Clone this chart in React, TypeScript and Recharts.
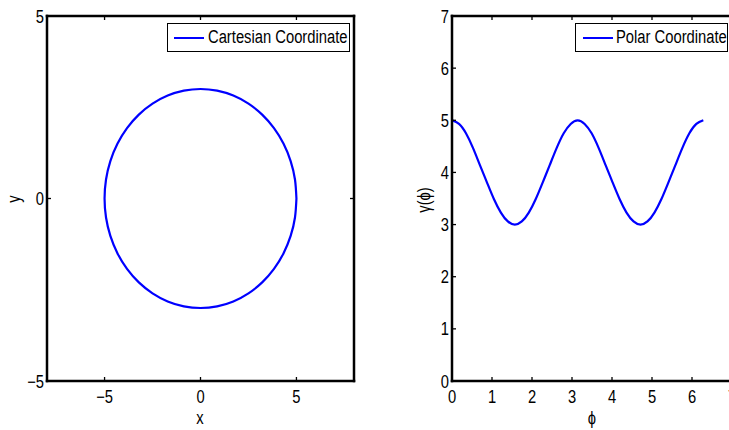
import React from 'react';
import { LineChart, Line, XAxis, YAxis, Legend } from 'recharts';

const FONT = '"Liberation Sans Narrow", "Liberation Sans", Arial, sans-serif';
const BLUE = '#0000ff';
const SX = 0.82; // horizontal condensing of the text

// Cartesian ellipse
const cartX = [5, 4.924, 4.698, 4.33, 3.83, 3.214, 2.5, 1.71, 0.868, 0,
  -0.868, -1.71, -2.5, -3.214, -3.83, -4.33, -4.698, -4.924, -5,
  -4.924, -4.698, -4.33, -3.83, -3.214, -2.5, -1.71, -0.868, 0,
  0.868, 1.71, 2.5, 3.214, 3.83, 4.33, 4.698, 4.924, 5];
const cartY = [0, 0.521, 1.026, 1.5, 1.928, 2.298, 2.598, 2.819, 2.954, 3,
  2.954, 2.819, 2.598, 2.298, 1.928, 1.5, 1.026, 0.521, 0,
  -0.521, -1.026, -1.5, -1.928, -2.298, -2.598, -2.819, -2.954, -3,
  -2.954, -2.819, -2.598, -2.298, -1.928, -1.5, -1.026, -0.521, 0];

// Radius vs angle
const polarPhi = [0, 0.175, 0.349, 0.524, 0.698, 0.873, 1.047, 1.222, 1.396, 1.571,
  1.745, 1.92, 2.094, 2.269, 2.443, 2.618, 2.793, 2.967, 3.142,
  3.316, 3.491, 3.665, 3.84, 4.014, 4.189, 4.363, 4.538, 4.712,
  4.887, 5.061, 5.236, 5.411, 5.585, 5.76, 5.934, 6.109, 6.283];
const polarR = [5, 4.93, 4.75, 4.47, 4.14, 3.81, 3.49, 3.23, 3.06, 3,
  3.06, 3.23, 3.49, 3.81, 4.14, 4.47, 4.75, 4.93, 5,
  4.93, 4.75, 4.47, 4.14, 3.81, 3.49, 3.23, 3.06, 3,
  3.06, 3.23, 3.49, 3.81, 4.14, 4.47, 4.75, 4.93, 5];

const cartTicksX = [-5, 0, 5];
const cartTicksY = [-5, 0, 5];
const polarTicksX = [0, 1, 2, 3, 4, 5, 6, 7];
const polarTicksY = [0, 1, 2, 3, 4, 5, 6, 7];

const cartData = cartX.map((x, i) => ({ x, y: cartY[i] }));
const polarData = polarPhi.map((phi, i) => ({ phi, r: polarR[i] }));

const fmt = (v: number) => (v < 0 ? '\u2212' + Math.abs(v) : String(v));
const TL = 4;
const axisLineStyle = { stroke: '#000', strokeWidth: 2.5, strokeLinecap: 'square' as const };

const NText = ({ tx, ty, anchor, rot, children }: any) => (
  <text
    x={0}
    y={0}
    textAnchor={anchor || 'middle'}
    fontFamily={FONT}
    fontSize={18}
    fill="#000"
    transform={`translate(${tx} ${ty}) rotate(${rot || 0}) scale(${SX} 1)`}
  >
    {children}
  </text>
);

const BottomTick = (props: any) => {
  const { x, y, payload } = props;
  return (
    <g>
      <line x1={x} x2={x} y1={y} y2={y - TL} stroke="#000" strokeWidth={1.3} />
      <NText tx={x} ty={y + 22}>{fmt(payload.value)}</NText>
    </g>
  );
};
const LeftTick = (props: any) => {
  const { x, y, payload } = props;
  return (
    <g>
      <line x1={x} x2={x + TL} y1={y} y2={y} stroke="#000" strokeWidth={1.3} />
      <NText tx={x - 3} ty={y + 6.5} anchor="end">{fmt(payload.value)}</NText>
    </g>
  );
};
const TopTick = (props: any) => {
  const { x, y } = props;
  return <line x1={x} x2={x} y1={y} y2={y + TL} stroke="#000" strokeWidth={1.3} />;
};
const RightTick = (props: any) => {
  const { x, y } = props;
  return <line x1={x} x2={x - TL} y1={y} y2={y} stroke="#000" strokeWidth={1.3} />;
};

const LegendBox = ({ label, width, lineLeft, textLeft }: any) => (
  <div
    style={{
      boxSizing: 'border-box',
      width,
      height: 29,
      border: '1.5px solid #000',
      background: '#fff',
      position: 'relative',
      fontFamily: FONT,
      fontSize: 18,
      color: '#000',
    }}
  >
    <div style={{ position: 'absolute', left: lineLeft, top: 12.5, width: 30, height: 2.5, background: BLUE }} />
    <span
      style={{
        position: 'absolute',
        left: textLeft,
        top: 0,
        lineHeight: '27px',
        whiteSpace: 'nowrap',
        transform: `scaleX(${SX})`,
        transformOrigin: '0 0',
      }}
    >
      {label}
    </span>
  </div>
);

const AxisTitle = ({ lx, ly, text, rot }: any) => (
  <NText tx={lx} ty={ly} rot={rot}>{text}</NText>
);

export default function App() {
  return (
    <div
      style={{
        position: 'absolute',
        left: 0,
        top: 0,
        width: 729,
        height: 430,
        overflow: 'hidden',
        background: '#fff',
      }}
    >
      <div style={{ position: 'absolute', left: 0, top: 0 }}>
        <LineChart width={365} height={430} data={cartData} margin={{ top: 15, right: 10, bottom: 0, left: 0 }}>
          <XAxis
            xAxisId="b"
            dataKey="x"
            type="number"
            domain={[-8, 8]}
            ticks={cartTicksX}
            height={49}
            tickSize={0}
            tickMargin={0}
            tick={<BottomTick />}
            axisLine={axisLineStyle}
            allowDataOverflow
            label={<AxisTitle lx={200} ly={424} text="x" />}
          />
          <XAxis
            xAxisId="t"
            orientation="top"
            dataKey="x"
            type="number"
            domain={[-8, 8]}
            ticks={cartTicksX}
            height={1}
            tickSize={0}
            tickMargin={0}
            tick={<TopTick />}
            axisLine={axisLineStyle}
            allowDataOverflow
          />
          <YAxis
            yAxisId="l"
            type="number"
            domain={[-5, 5]}
            ticks={cartTicksY}
            width={47}
            tickSize={0}
            tickMargin={0}
            tick={<LeftTick />}
            axisLine={axisLineStyle}
            allowDataOverflow
            label={<AxisTitle lx={20} ly={199} text="y" rot={-90} />}
          />
          <YAxis
            yAxisId="r"
            orientation="right"
            type="number"
            domain={[-5, 5]}
            ticks={cartTicksY}
            width={1}
            tickSize={0}
            tickMargin={0}
            tick={<RightTick />}
            axisLine={axisLineStyle}
            allowDataOverflow
          />
          <Legend
            verticalAlign="middle"
            align="center"
            wrapperStyle={{ left: 167, top: 23, width: 183, height: 29 }}
            content={() => <LegendBox label="Cartesian Coordinate" width={183} lineLeft={6} textLeft={40} />}
          />
          <Line
            xAxisId="b"
            yAxisId="l"
            dataKey="y"
            name="Cartesian Coordinate"
            type="natural"
            stroke={BLUE}
            strokeWidth={2.2}
            dot={false}
            isAnimationActive={false}
          />
        </LineChart>
      </div>
      <div style={{ position: 'absolute', left: 365, top: 0 }}>
        <LineChart width={380} height={430} data={polarData} margin={{ top: 15, right: 13, bottom: 0, left: 0 }}>
          <XAxis
            xAxisId="b"
            dataKey="phi"
            type="number"
            domain={[0, 7]}
            ticks={polarTicksX}
            height={49}
            tickSize={0}
            tickMargin={0}
            tick={<BottomTick />}
            axisLine={axisLineStyle}
            allowDataOverflow
            label={<AxisTitle lx={227} ly={424} text={'\u03d5'} />}
          />
          <XAxis
            xAxisId="t"
            orientation="top"
            dataKey="phi"
            type="number"
            domain={[0, 7]}
            ticks={polarTicksX}
            height={1}
            tickSize={0}
            tickMargin={0}
            tick={<TopTick />}
            axisLine={axisLineStyle}
            allowDataOverflow
          />
          <YAxis
            yAxisId="l"
            type="number"
            domain={[0, 7]}
            ticks={polarTicksY}
            width={87}
            tickSize={0}
            tickMargin={0}
            tick={<LeftTick />}
            axisLine={axisLineStyle}
            allowDataOverflow
            label={<AxisTitle lx={65} ly={200} text={'\u03b3(\u03d5)'} rot={-90} />}
          />
          <Legend
            verticalAlign="middle"
            align="center"
            wrapperStyle={{ left: 210, top: 23, width: 153, height: 29 }}
            content={() => <LegendBox label="Polar Coordinate" width={153} lineLeft={7} textLeft={40} />}
          />
          <Line
            xAxisId="b"
            yAxisId="l"
            dataKey="r"
            name="Polar Coordinate"
            type="natural"
            stroke={BLUE}
            strokeWidth={2.2}
            dot={false}
            isAnimationActive={false}
          />
        </LineChart>
      </div>
    </div>
  );
}
